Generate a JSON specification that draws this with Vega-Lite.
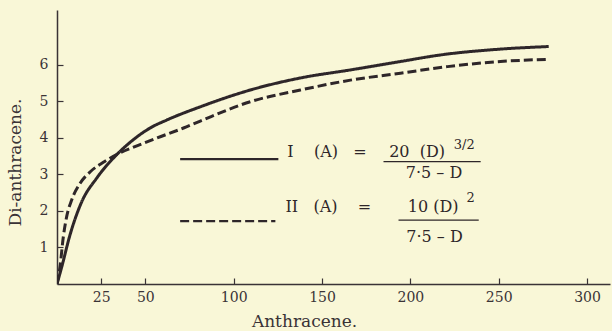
{
  "$schema": "https://vega.github.io/schema/vega-lite/v6.json",
  "width": 553,
  "height": 274,
  "autosize": "none",
  "padding": {"left": 57, "top": 10, "right": 2, "bottom": 47},
  "background": "#f9f7d7",
  "config": {
    "view": {"stroke": null},
    "axis": {
      "grid": false,
      "domainColor": "#3a3336",
      "domainWidth": 1.5,
      "tickColor": "#3a3336",
      "tickWidth": 1.2,
      "tickSize": -6,
      "labelFont": "DejaVu Serif",
      "labelFontSize": 14,
      "labelColor": "#3a3336",
      "titleFont": "DejaVu Serif",
      "titleFontSize": 17,
      "titleFontWeight": "normal",
      "titleColor": "#3a3336"
    },
    "text": {"font": "DejaVu Serif", "color": "#2e2629"}
  },
  "datasets": {
    "curves": [
      {"series": "I", "x": 0, "y": 0},
      {"series": "I", "x": 2.7, "y": 0.47},
      {"series": "I", "x": 7.4, "y": 1.35},
      {"series": "I", "x": 14.0, "y": 2.25},
      {"series": "I", "x": 22.5, "y": 2.9},
      {"series": "I", "x": 34.0, "y": 3.55},
      {"series": "I", "x": 43.2, "y": 3.95},
      {"series": "I", "x": 52.7, "y": 4.27},
      {"series": "I", "x": 62.2, "y": 4.49},
      {"series": "I", "x": 81.1, "y": 4.85},
      {"series": "I", "x": 109.4, "y": 5.31},
      {"series": "I", "x": 137.8, "y": 5.64},
      {"series": "I", "x": 166.1, "y": 5.86},
      {"series": "I", "x": 194.4, "y": 6.09},
      {"series": "I", "x": 217.1, "y": 6.27},
      {"series": "I", "x": 251.1, "y": 6.43},
      {"series": "I", "x": 278.3, "y": 6.5},
      {"series": "II", "x": 0, "y": 0},
      {"series": "II", "x": 1.7, "y": 0.47},
      {"series": "II", "x": 3.6, "y": 1.3},
      {"series": "II", "x": 5.5, "y": 1.85},
      {"series": "II", "x": 8.3, "y": 2.3},
      {"series": "II", "x": 13.0, "y": 2.75},
      {"series": "II", "x": 19.0, "y": 3.08},
      {"series": "II", "x": 26.2, "y": 3.33},
      {"series": "II", "x": 34.0, "y": 3.55},
      {"series": "II", "x": 45.2, "y": 3.78},
      {"series": "II", "x": 56.7, "y": 4.0},
      {"series": "II", "x": 71.6, "y": 4.27},
      {"series": "II", "x": 81.1, "y": 4.46},
      {"series": "II", "x": 109.4, "y": 4.99},
      {"series": "II", "x": 137.8, "y": 5.31},
      {"series": "II", "x": 166.1, "y": 5.58},
      {"series": "II", "x": 194.4, "y": 5.77},
      {"series": "II", "x": 221, "y": 5.95},
      {"series": "II", "x": 251, "y": 6.09},
      {"series": "II", "x": 277.8, "y": 6.15}
    ],
    "keys": [
      {"series": "I", "x": 69.7, "y": 3.42},
      {"series": "I", "x": 125.3, "y": 3.42},
      {"series": "II", "x": 69.7, "y": 1.72},
      {"series": "II", "x": 123.6, "y": 1.72}
    ],
    "bars": [
      {"x": 184.8, "x2": 239.8, "y": 3.35},
      {"x": 193.3, "x2": 238.7, "y": 1.75}
    ],
    "labels": [
      {"x": 152.8, "y": 3.61, "text": "I\u00a0\u00a0\u00a0\u00a0(A)\u00a0\u00a0\u00a0="},
      {"x": 203.8, "y": 3.61, "text": "20\u00a0\u00a0(D)"},
      {"x": 213.4, "y": 3.04, "text": "7·5 – D"},
      {"x": 153.6, "y": 2.11, "text": "II\u00a0\u00a0\u00a0(A)\u00a0\u00a0\u00a0\u00a0="},
      {"x": 212.9, "y": 2.11, "text": "10\u00a0(D)"},
      {"x": 213.7, "y": 1.29, "text": "7·5 – D"}
    ],
    "sups": [
      {"x": 230.5, "y": 3.8, "text": "3/2"},
      {"x": 234.1, "y": 2.36, "text": "2"}
    ]
  },
  "layer": [
    {
      "data": {"name": "curves"},
      "mark": {"type": "line", "strokeWidth": 3, "color": "#2e2629", "clip": true, "interpolate": "monotone"},
      "encoding": {
        "x": {
          "field": "x", "type": "quantitative",
          "scale": {"domain": [0, 313], "nice": false},
          "axis": {"values": [25, 50, 100, 150, 200, 250, 300], "title": "Anthracene.", "labelPadding": 12, "titleX": 247, "titleY": 46, "titleBaseline": "bottom"}
        },
        "y": {
          "field": "y", "type": "quantitative",
          "scale": {"domain": [0, 7.5], "nice": false},
          "axis": {"values": [1, 2, 3, 4, 5, 6], "title": "Di-anthracene.", "labelPadding": 15, "titleX": -33, "titleY": 152}
        },
        "detail": {"field": "series"},
        "strokeDash": {
          "field": "series", "type": "nominal",
          "scale": {"domain": ["I", "II"], "range": [[1, 0], [9, 4]]},
          "legend": null
        }
      }
    },
    {
      "data": {"name": "keys"},
      "mark": {"type": "line", "strokeWidth": 2.2, "color": "#2e2629"},
      "encoding": {
        "x": {"field": "x", "type": "quantitative"},
        "y": {"field": "y", "type": "quantitative"},
        "detail": {"field": "series"},
        "strokeDash": {
          "field": "series", "type": "nominal",
          "scale": {"domain": ["I", "II"], "range": [[1, 0], [7, 3]]},
          "legend": null
        }
      }
    },
    {
      "data": {"name": "bars"},
      "mark": {"type": "rule", "strokeWidth": 1.3, "color": "#2e2629"},
      "encoding": {
        "x": {"field": "x", "type": "quantitative"},
        "x2": {"field": "x2"},
        "y": {"field": "y", "type": "quantitative"}
      }
    },
    {
      "data": {"name": "labels"},
      "mark": {"type": "text", "fontSize": 16, "align": "center", "baseline": "middle"},
      "encoding": {
        "x": {"field": "x", "type": "quantitative"},
        "y": {"field": "y", "type": "quantitative"},
        "text": {"field": "text"}
      }
    },
    {
      "data": {"name": "sups"},
      "mark": {"type": "text", "fontSize": 13, "align": "center", "baseline": "middle"},
      "encoding": {
        "x": {"field": "x", "type": "quantitative"},
        "y": {"field": "y", "type": "quantitative"},
        "text": {"field": "text"}
      }
    }
  ]
}
